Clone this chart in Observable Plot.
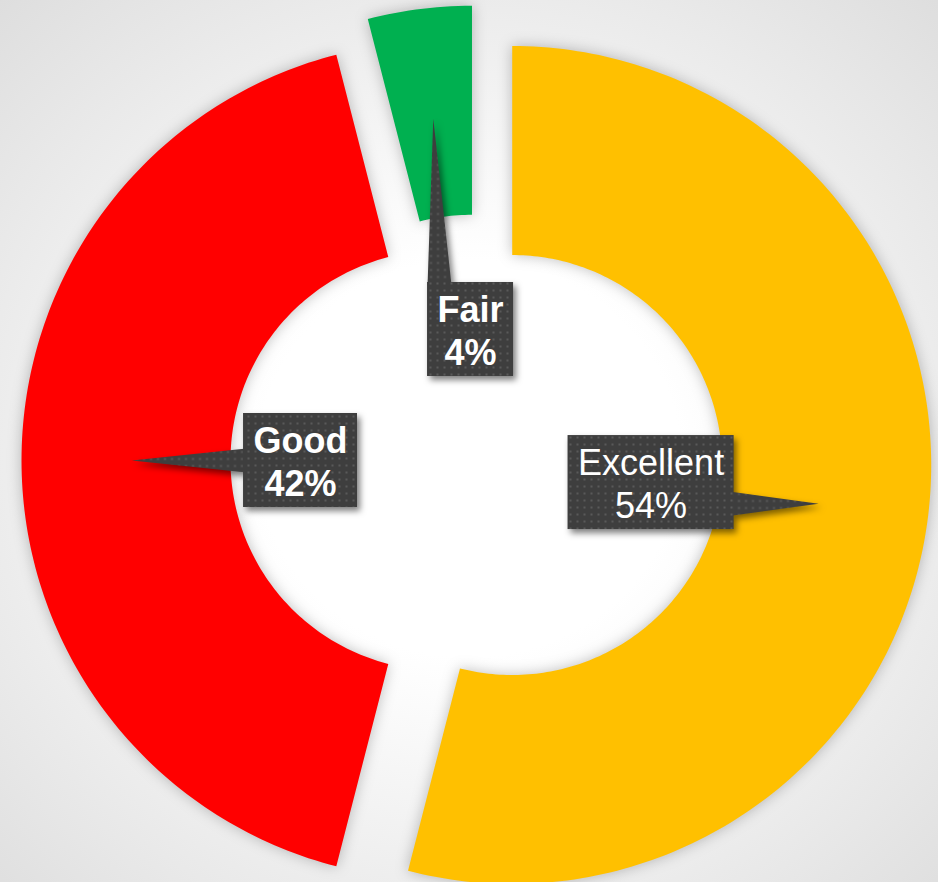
<!DOCTYPE html>
<html><head><meta charset="utf-8">
<script src="https://cdn.jsdelivr.net/npm/d3@7"></script>
<script src="https://cdn.jsdelivr.net/npm/@observablehq/plot@0.6"></script>
<style>
html,body{margin:0;padding:0;background:#fff;}
#chart svg{display:block;}
</style></head><body><div id="chart"></div>
<script>
// ---- data ----
const categories = ["Excellent", "Good", "Fair"];
const values = [54, 42, 4];
const labelLines = ["Excellent\n54%", "Good\n42%", "Fair\n4%"];
const colors = ["#FFC000", "#FF0000", "#00B050"];

// ---- layout (code, not data) ----
const W = 938, H = 882;
const CX = 476, CY = 460, RPX = 419;      // chart centre & outer radius in px
const innerR = 210 / RPX, explode = 36 / RPX;
const tipR = 0.823;
const labelR = {Excellent: 0.42, Good: 0.42, Fair: 0.313};
const labelTurn = {Excellent: 0, Good: 0, Fair: 4.6};   // degrees
const boldLabel = {Excellent: false, Good: true, Fair: true};
const FONT = 36, LH = 1.2, FAMILY = "'Liberation Sans', Arial, sans-serif";

const total = d3.sum(values);
let cum = 0;
const slices = categories.map((c, i) => {
  const a0 = cum / total * 2 * Math.PI; cum += values[i];
  const a1 = cum / total * 2 * Math.PI;
  return {cat: c, i, a0, a1, mid: (a0 + a1) / 2};
});

const slicePts = [];
for (const s of slices) {
  const ox = explode * Math.sin(s.mid), oy = explode * Math.cos(s.mid);
  const n = Math.max(2, Math.ceil((s.a1 - s.a0) / (2 * Math.PI) * 360));
  for (let k = 0; k <= n; k++) {
    const a = s.a0 + (s.a1 - s.a0) * k / n;
    slicePts.push({cat: s.cat, x: ox + Math.sin(a), y: oy + Math.cos(a)});
  }
  for (let k = n; k >= 0; k--) {
    const a = s.a0 + (s.a1 - s.a0) * k / n;
    slicePts.push({cat: s.cat, x: ox + innerR * Math.sin(a), y: oy + innerR * Math.cos(a)});
  }
}

// measure label text
const ctx = document.createElement("canvas").getContext("2d");
const boxes = [], ptrPts = [], labels = [];
for (const s of slices) {
  const bold = boldLabel[s.cat];
  ctx.font = `${bold ? "bold " : ""}${FONT}px ${FAMILY}`;
  const txt = labelLines[s.i];
  const tw = d3.max(txt.split("\n"), l => ctx.measureText(l).width);
  const hwPx = tw / 2 + 10, hhPx = 47;
  const lr = labelR[s.cat];
  const la = s.mid + labelTurn[s.cat] * Math.PI / 180;
  const bx = lr * Math.sin(la), by = lr * Math.cos(la);
  const hw = hwPx / RPX, hh = hhPx / RPX;
  boxes.push({cat: s.cat, x1: bx - hw, x2: bx + hw, y1: by - hh, y2: by + hh});
  labels.push({cat: s.cat, x: bx, y: by, text: txt, bold});
  const tx = tipR * Math.sin(s.mid), ty = tipR * Math.cos(s.mid);
  const bw = 12 / RPX, inset = 3 / RPX;
  const dx = tx - bx, dy = ty - by;
  let p1, p2;
  if (Math.abs(dx) / hw > Math.abs(dy) / hh) {
    const sx = bx + Math.sign(dx) * (hw - inset);
    const c = Math.max(by - hh + bw, Math.min(by + hh - bw, ty));
    p1 = [sx, c - bw]; p2 = [sx, c + bw];
  } else {
    const sy = by + Math.sign(dy) * (hh - inset);
    const c = Math.max(bx - hw + bw, Math.min(bx + hw - bw, tx));
    p1 = [c - bw, sy]; p2 = [c + bw, sy];
  }
  ptrPts.push({cat: s.cat, x: tx, y: ty}, {cat: s.cat, x: p1[0], y: p1[1]}, {cat: s.cat, x: p2[0], y: p2[1]});
}

const plot = Plot.plot({
  width: W, height: H, margin: 0,
  x: {domain: [-CX / RPX, (W - CX) / RPX], range: [0, W], axis: null},
  y: {domain: [-(H - CY) / RPX, CY / RPX], range: [H, 0], axis: null},
  color: {domain: categories, range: colors},
  marks: [
    Plot.line(slicePts, {x: "x", y: "y", z: "cat", fill: "cat", stroke: "none", curve: "linear-closed"}),
    Plot.line(ptrPts, {x: "x", y: "y", z: "cat", fill: "url(#dots)", stroke: "none", curve: "linear-closed"}),
    Plot.rect(boxes, {x1: "x1", x2: "x2", y1: "y1", y2: "y2", fill: "url(#dots)"}),
    Plot.text(labels.filter(d => d.bold), {x: "x", y: "y", text: "text", fill: "white", fontSize: FONT, fontWeight: "bold", lineHeight: LH, fontFamily: FAMILY}),
    Plot.text(labels.filter(d => !d.bold), {x: "x", y: "y", text: "text", fill: "white", fontSize: FONT, fontWeight: "normal", lineHeight: LH, fontFamily: FAMILY})
  ]
});

const svg = d3.select(plot);
svg.style("background", "radial-gradient(ellipse 75% 75% at 50% 52%, #ffffff 0%, #ffffff 30%, #ececec 68%, #dcdcdc 100%)");
svg.insert("defs", ":first-child").html(
  `<pattern id="dots" width="7" height="7" patternUnits="userSpaceOnUse">
     <rect width="7" height="7" fill="#3e3e3e"/>
     <rect x="2.5" y="2.5" width="2" height="2" fill="#595959"/>
   </pattern>`);
const lineGs = plot.querySelectorAll('g[aria-label="line"]');
lineGs[0].style.filter = "drop-shadow(0px 0px 7px rgba(0,0,0,0.25))";
const rectG = plot.querySelector('g[aria-label="rect"]');
const wrap = document.createElementNS("http://www.w3.org/2000/svg", "g");
lineGs[1].parentNode.insertBefore(wrap, lineGs[1]);
wrap.appendChild(lineGs[1]); wrap.appendChild(rectG);
wrap.style.filter = "drop-shadow(3px 4px 3px rgba(0,0,0,0.5))";

document.getElementById("chart").appendChild(plot);
</script></body></html>
